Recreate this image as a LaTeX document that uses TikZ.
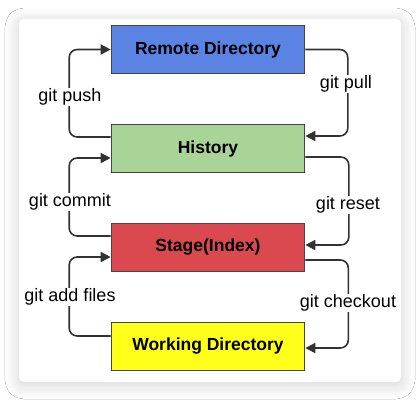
\documentclass[tikz,border=0pt]{standalone}
\usepackage{fontspec}
\setmainfont{Liberation Sans}
\usetikzlibrary{arrows.meta,shadows.blur}

\definecolor{remoteblue}{RGB}{91,131,227}
\definecolor{historygreen}{RGB}{168,212,152}
\definecolor{stagered}{RGB}{217,73,79}
\definecolor{workyellow}{RGB}{255,255,26}
\definecolor{boxline}{RGB}{70,70,70}
\definecolor{flowline}{RGB}{50,50,50}

\begin{document}
\begin{tikzpicture}[x=1pt,y=-1pt,
    area/.style={draw=boxline, line width=1.6pt, minimum width=193pt, minimum height=48pt,
        inner sep=0pt, font=\fontsize{17.5}{20}\selectfont\bfseries},
    flow/.style={draw=flowline, line width=1.6pt, rounded corners=8pt,
        -{Triangle[length=10pt,width=10pt]}},
    cmd/.style={fill=white, inner sep=1pt, font=\fontsize{18}{20}\selectfont}]
    % Card
    \useasboundingbox (0,0) rectangle (419,400);
    \fill[white] (0,0) rectangle (419,400);
    \fill[white, rounded corners=5pt, blur shadow={shadow xshift=0pt, shadow yshift=-3pt,
        shadow blur radius=14pt, shadow blur steps=16, shadow opacity=18}] (19,19) rectangle (401,382);
    
    % Boxes
    \node[area, fill=remoteblue] (remote) at (208,49.5) {Remote Directory};
    \node[area, fill=historygreen] (hist) at (208,148.5) {History};
    \node[area, fill=stagered] (stage) at (208,247.5) {Stage(Index)};
    \node[area, fill=workyellow] (work) at (208,346.5) {Working Directory};
    
    % Left side: upwards
    \draw[flow] ([yshift=11.5pt]hist.west) -| ([xshift=-41.5pt]remote.west) -- (remote.west);
    \draw[flow] ([yshift=11.5pt]stage.west) -| ([xshift=-41.5pt,yshift=-9.5pt]hist.west) -- ([yshift=-9.5pt]hist.west);
    \draw[flow] ([yshift=10.5pt]work.west) -| ([xshift=-41.5pt,yshift=-9.5pt]stage.west) -- ([yshift=-9.5pt]stage.west);
    
    % Right side: downwards
    \draw[flow] (remote.east) -| ([xshift=42.5pt,yshift=12.5pt]hist.east) -- ([yshift=12.5pt]hist.east);
    \draw[flow] ([yshift=-8.5pt]hist.east) -| ([xshift=43.5pt,yshift=2.5pt]stage.east) -- ([yshift=2.5pt]stage.east);
    \draw[flow] ([yshift=-12.5pt]stage.east) -| ([xshift=43pt,yshift=-1.5pt]work.east) -- ([yshift=-1.5pt]work.east);
    
    % Labels
    \node[cmd] (push) at (70,97) {git push};
    \node[cmd] (pull) at (346,84) {git pull};
    \node[cmd] (commit) at (70,202) {git commit};
    \node[cmd] (reset) at (348,205) {git reset};
    \node[cmd] (add) at (70,297) {git add files};
    \node[cmd] (checkout) at (348,303) {git checkout};
\end{tikzpicture}
\end{document}
